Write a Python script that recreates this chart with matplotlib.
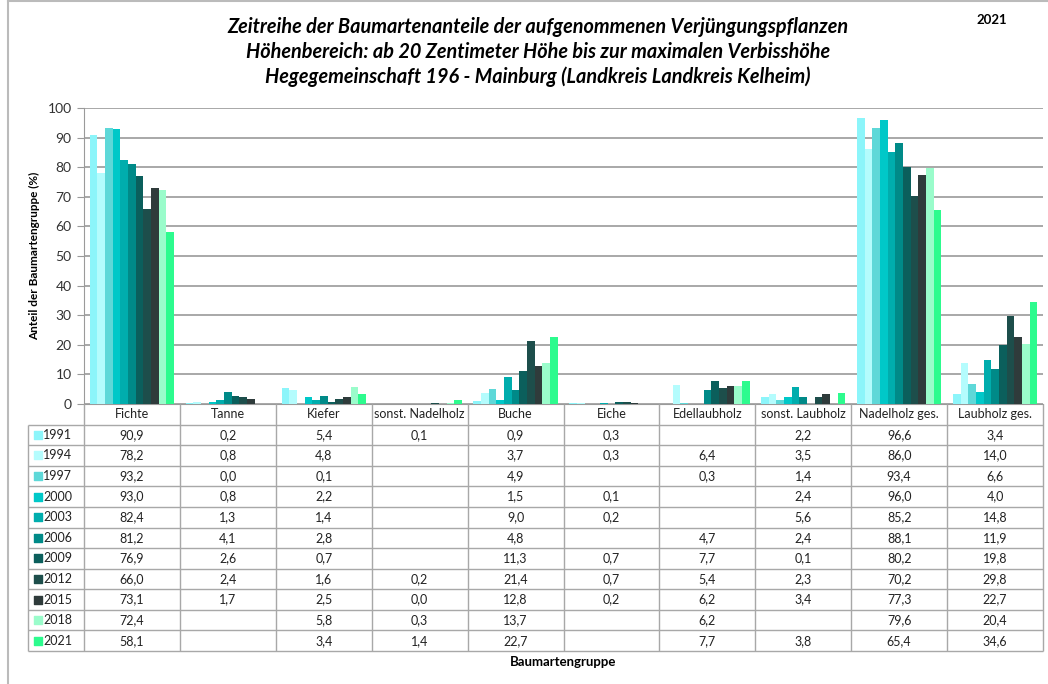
import matplotlib
matplotlib.use("Agg")
import matplotlib.pyplot as plt
import numpy as np

plt.rcParams['font.family'] = ['Lato', 'DejaVu Sans']

categories = ["Fichte", "Tanne", "Kiefer", "sonst. Nadelholz", "Buche", "Eiche",
              "Edellaubholz", "sonst. Laubholz", "Nadelholz ges.", "Laubholz ges."]
years = ["1991", "1994", "1997", "2000", "2003", "2006", "2009", "2012", "2015", "2018", "2021"]
N = None
# one row per survey year, columns follow categories (None = empty cell)
values = [
    [90.9, 0.2, 5.4, 0.1, 0.9, 0.3, N, 2.2, 96.6, 3.4],
    [78.2, 0.8, 4.8, N, 3.7, 0.3, 6.4, 3.5, 86.0, 14.0],
    [93.2, 0.0, 0.1, N, 4.9, N, 0.3, 1.4, 93.4, 6.6],
    [93.0, 0.8, 2.2, N, 1.5, 0.1, N, 2.4, 96.0, 4.0],
    [82.4, 1.3, 1.4, N, 9.0, 0.2, N, 5.6, 85.2, 14.8],
    [81.2, 4.1, 2.8, N, 4.8, N, 4.7, 2.4, 88.1, 11.9],
    [76.9, 2.6, 0.7, N, 11.3, 0.7, 7.7, 0.1, 80.2, 19.8],
    [66.0, 2.4, 1.6, 0.2, 21.4, 0.7, 5.4, 2.3, 70.2, 29.8],
    [73.1, 1.7, 2.5, 0.0, 12.8, 0.2, 6.2, 3.4, 77.3, 22.7],
    [72.4, N, 5.8, 0.3, 13.7, N, 6.2, N, 79.6, 20.4],
    [58.1, N, 3.4, 1.4, 22.7, N, 7.7, 3.8, 65.4, 34.6],
]
colors = ["#8CF5FA", "#B4FCFD", "#5ED8D8", "#00C8C8", "#00ADAD", "#008A88",
          "#0B5F5C", "#1D4E4B", "#2F3B3B", "#9AFCCB", "#2DFB8E"]

W, H = 1048, 684
fig = plt.figure(figsize=(W / 100, H / 100), dpi=100)

def px(x0, y0, x1, y1):
    return [x0 / W, 1 - y1 / H, (x1 - x0) / W, (y1 - y0) / H]

gridc = "#9a9a9a"
ax = fig.add_axes(px(84, 108, 1043, 404))
ncat = len(categories)
nyr = len(years)
bw = 0.08
x = np.arange(ncat)
for i, yr in enumerate(years):
    vals = np.array([np.nan if v is None else v for v in values[i]], dtype=float)
    ax.bar(x + (i - (nyr - 1) / 2) * bw, vals, width=bw, color=colors[i],
           edgecolor="none", zorder=3)
ax.set_xlim(-0.5, ncat - 0.5)
ax.set_ylim(0, 100)
ax.set_yticks(range(0, 101, 10))
ax.yaxis.grid(True, color=gridc, linewidth=1.2, zorder=0)
ax.set_xticks(np.arange(-0.5, ncat, 1))
ax.set_xticklabels([])
ax.tick_params(axis="x", length=0)
ax.tick_params(axis="y", length=5, color=gridc, labelsize=10, labelcolor="#333333", pad=4)
for s in ["top", "right"]:
    ax.spines[s].set_visible(False)
ax.spines["left"].set_color(gridc)
ax.spines["bottom"].set_color(gridc)
ax.set_ylabel("Anteil der Baumartengruppe (%)", fontsize=8.5, fontweight="bold", labelpad=5)

# data table below the axis
tab = fig.add_axes(px(84, 404, 1043, 651))
tab.set_xlim(-0.5, ncat - 0.5)
tab.set_ylim(nyr + 1, 0)
tab.axis("off")
lab_left = -0.5 - 56 / 959 * ncat
linec = "#a8a8a8"
tab.vlines(np.arange(-0.5, ncat, 1), 0, nyr + 1, color=linec, lw=1, clip_on=False)
tab.vlines(lab_left, 1, nyr + 1, color=linec, lw=1, clip_on=False)
tab.hlines(np.arange(1, nyr + 2), lab_left, ncat - 0.5, color=linec, lw=1, clip_on=False)
fs = 9
for j, c in enumerate(categories):
    tab.text(j, 0.5, c, ha="center", va="center", fontsize=fs, color="#222222")
for i, yr in enumerate(years):
    yy = i + 1.5
    tab.scatter([lab_left + 0.1], [yy], marker="s", s=40, color=colors[i], clip_on=False)
    tab.text(lab_left + 0.16, yy, yr, ha="left", va="center", fontsize=fs, color="#222222")
    for j, v in enumerate(values[i]):
        if v is not None:
            tab.text(j, yy, f"{v:.1f}".replace(".", ","), ha="center", va="center",
                     fontsize=fs, color="#222222")

fig.text(563 / W, 1 - 662 / H, "Baumartengruppe", ha="center", va="center",
         fontsize=9.5, fontweight="bold")

title = ("Zeitreihe der Baumartenanteile der aufgenommenen Verjüngungspflanzen\n"
         "Höhenbereich: ab 20 Zentimeter Höhe bis zur maximalen Verbisshöhe\n"
         "Hegegemeinschaft 196 - Mainburg (Landkreis Landkreis Kelheim)")
fig.text(538 / W, 1 - 52 / H, title, ha="center", va="center", fontsize=14.3,
         fontweight="bold", fontstyle="italic", linespacing=1.3)
fig.text(992 / W, 1 - 20 / H, "2021", ha="center", va="center", fontsize=9.5, fontweight="bold")

# outer frame
fig.add_artist(plt.Line2D([8 / W, 8 / W], [0, 1], color="#bbbbbb", lw=1.5))
fig.add_artist(plt.Line2D([8 / W, 1], [1 - 1 / H, 1 - 1 / H], color="#bbbbbb", lw=1.5))

fig.savefig("out.png", dpi=100)
